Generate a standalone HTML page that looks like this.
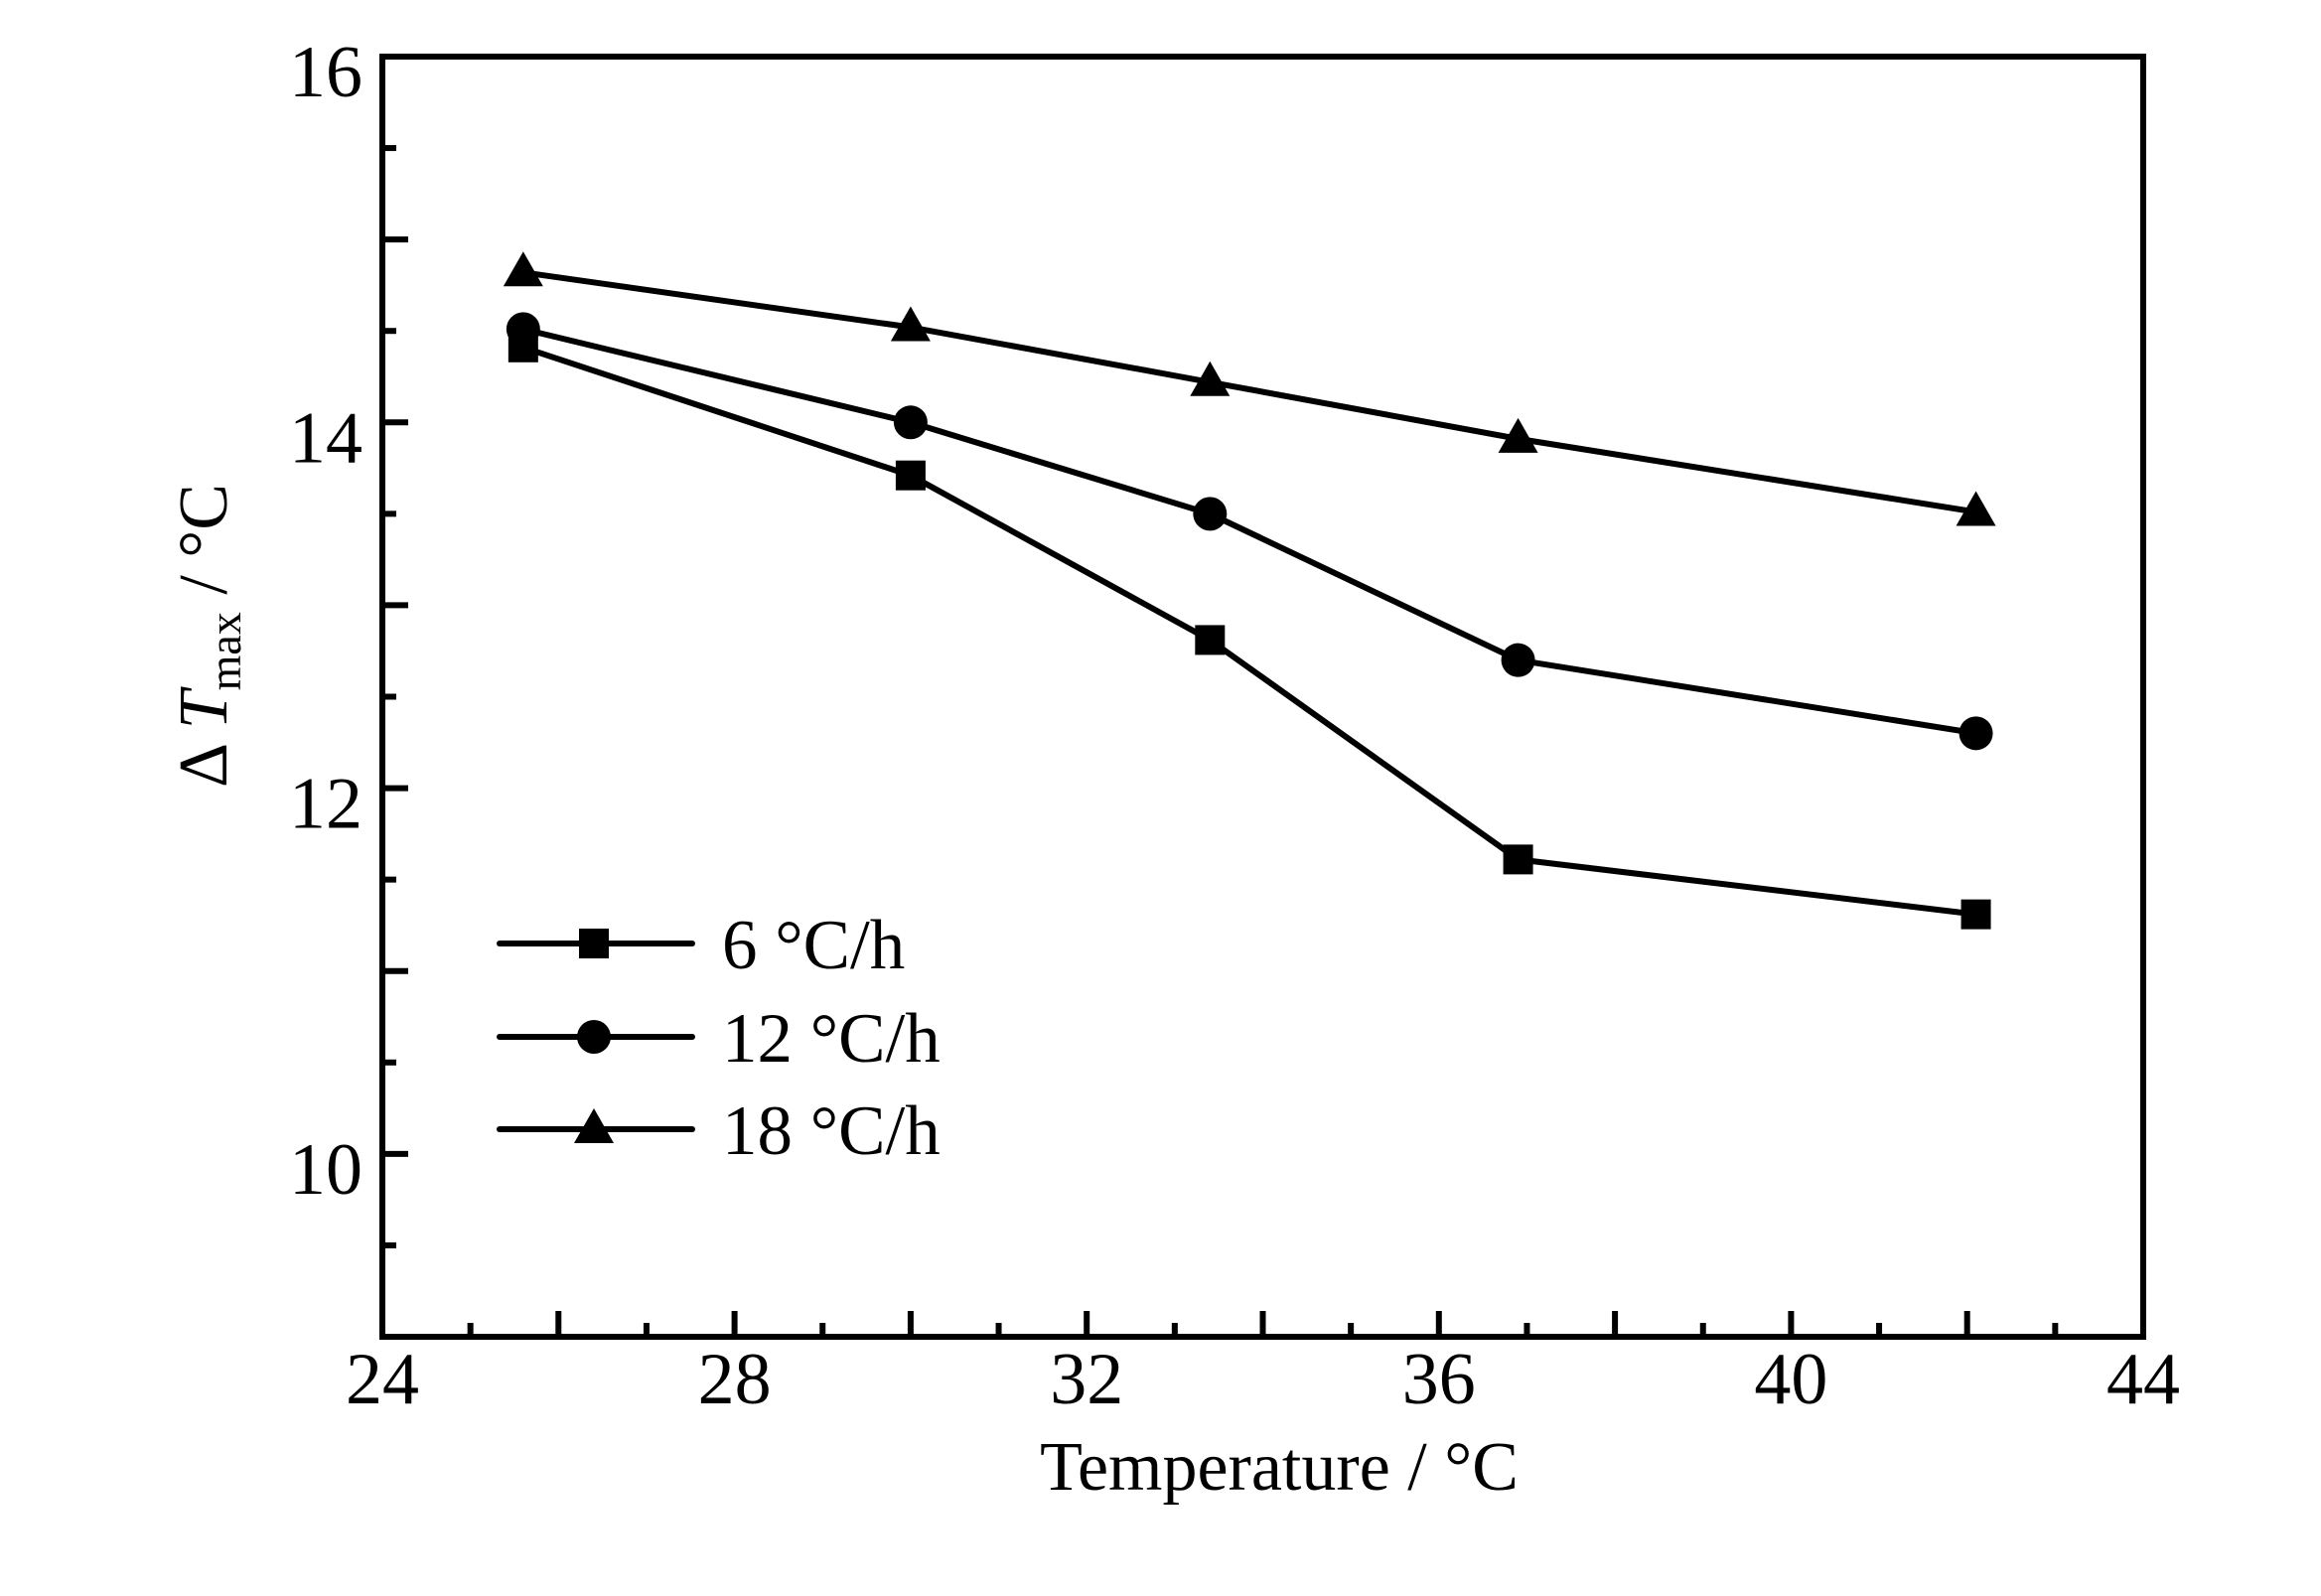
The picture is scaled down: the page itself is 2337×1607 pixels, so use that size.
<!DOCTYPE html>
<html><head><meta charset="utf-8"><style>
html,body{margin:0;padding:0;background:#fff;}
svg{display:block;font-family:"Liberation Serif","DejaVu Serif",serif;}
</style></head><body>
<svg id="chart" width="2337" height="1607" viewBox="0 0 2337 1607" xmlns="http://www.w3.org/2000/svg">
<g id="axes"></g>
<g id="series"></g>
<g id="legend"></g>
<text x="1288" y="1500" font-size="70" text-anchor="middle">Temperature / °C</text>
<text transform="translate(228,640) rotate(-90)" font-size="70" text-anchor="middle">Δ <tspan font-style="italic">T</tspan><tspan font-size="46" dy="14">max</tspan><tspan dy="-14"> / °C</tspan></text>
</svg>
<script>
const xValues = [25.6, 30, 33.4, 36.9, 42.1];
const seriesNames = ["6 °C/h", "12 °C/h", "18 °C/h"];
const series6 = [14.41, 13.71, 12.81, 11.61, 11.31];
const series12 = [14.51, 14.0, 13.5, 12.7, 12.3];
const series18 = [14.82, 14.52, 14.22, 13.91, 13.51];
const xTickLabels = [24, 28, 32, 36, 40, 44];
const yTickLabels = [10, 12, 14, 16];

const NS = "http://www.w3.org/2000/svg";
const L = 385, R = 2158, T = 57, B = 1346;
const xMin = 24, xMax = 44, yMin = 9, yMax = 16;
function xs(v){ return L + (v - xMin) / (xMax - xMin) * (R - L); }
function ys(v){ return B - (v - yMin) / (yMax - yMin) * (B - T); }
function mk(tag, attrs, parent){
  const e = document.createElementNS(NS, tag);
  for (const k in attrs) e.setAttribute(k, attrs[k]);
  parent.appendChild(e); return e;
}
const axes = document.getElementById('axes');
const frame = mk('rect', {x:L, y:T, width:R-L, height:B-T, fill:'none', stroke:'#000', 'stroke-width':6}, axes);


for (let v = 25; v < 44; v++) {
  const major = v % 2 === 0;
  const t = mk('line', {x1:xs(v), x2:xs(v), y1:B, y2:B - (major ? 26 : 14), stroke:'#000', 'stroke-width':6}, axes);
  
  
}
xTickLabels.forEach(v => {
  const t = mk('text', {x:xs(v), y:1413, 'font-size':74, 'text-anchor':'middle'}, axes);
  t.textContent = v;
  
  
});
for (let v = 9.5; v < 16; v += 0.5) {
  const major = Math.abs(v - Math.round(v)) < 1e-6;
  const t = mk('line', {x1:L, x2:L + (major ? 26 : 14), y1:ys(v), y2:ys(v), stroke:'#000', 'stroke-width':6}, axes);
  
  
}
yTickLabels.forEach(v => {
  const t = mk('text', {x:365, y:ys(v) + 40, 'font-size':74, 'text-anchor':'end'}, axes);
  t.textContent = v;
  
  
});
function marker(kind, cx, cy, parent){
  let e;
  if (kind === 0) e = mk('rect', {x:cx-15, y:cy-15, width:30, height:30, fill:'#000'}, parent);
  else if (kind === 1) e = mk('circle', {cx:cx, cy:cy, r:17, fill:'#000'}, parent);
  else e = mk('polygon', {points:`${cx},${cy-21} ${cx-20},${cy+14} ${cx+20},${cy+14}`, fill:'#000'}, parent);
  return e;
}
const ser = document.getElementById('series');
[series6, series12, series18].forEach((arr, si) => {
  const g = mk('g', {}, ser);
  
  
  const pts = arr.map((v, i) => xs(xValues[i]) + ',' + ys(v)).join(' ');
  const pl = mk('polyline', {points:pts, fill:'none', stroke:'#000', 'stroke-width':6, 'stroke-linejoin':'round'}, g);
  
  
  arr.forEach((v, i) => {
    const m = marker(si, xs(xValues[i]), ys(v), g);
    
    
  });
});
const leg = document.getElementById('legend');
const legY = [950, 1044, 1137];
seriesNames.forEach((n, i) => {
  const g = mk('g', {}, leg);
  
  
  mk('line', {x1:503, x2:697, y1:legY[i], y2:legY[i], stroke:'#000', 'stroke-width':6, 'stroke-linecap':'round'}, g);
  marker(i, 598, legY[i], g);
  const t = mk('text', {x:727, y:legY[i] + 25, 'font-size':71}, g);
  t.textContent = n;
});
</script>
</body></html>
